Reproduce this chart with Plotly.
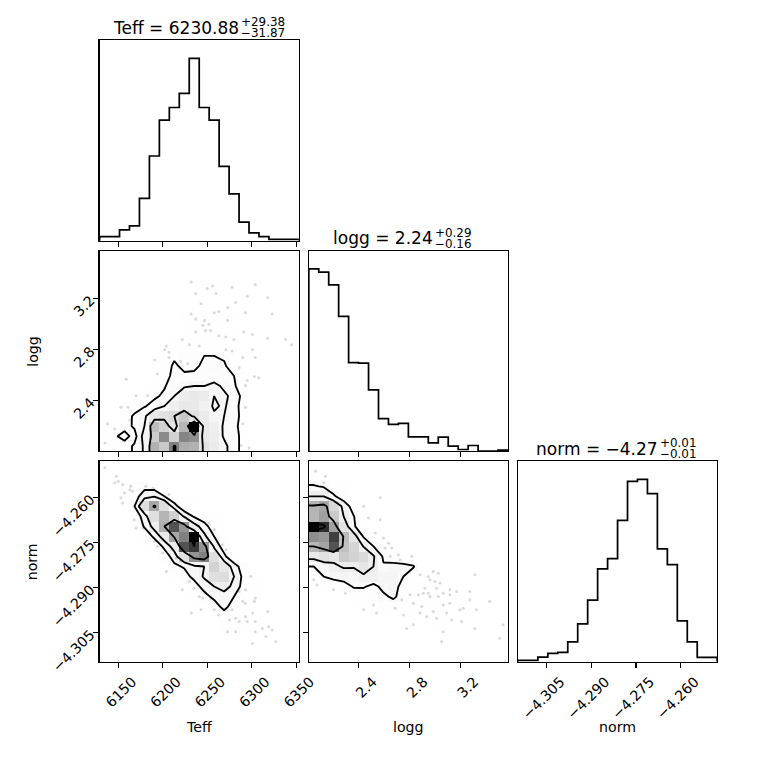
import numpy as np
import plotly.graph_objects as go

# ---------------- data ----------------
TEFF_RANGE = [6129.0, 6353.0]
LOGG_RANGE = [2.006, 3.576]
NORM_RANGE = [-4.3146, -4.2478]

TEFF_HIST = [12, 12, 32, 44, 126, 253, 360, 398, 440, 545, 398, 360, 222, 140, 55, 23, 12, 4, 2, 4]
LOGG_HIST = [545, 535, 497, 403, 265, 263, 183, 97, 80, 83, 43, 43, 25, 42, 15, 5, 17, 0, 0, 3]
NORM_HIST = [4, 4, 14, 25, 28, 59, 113, 184, 277, 308, 422, 538, 544, 502, 337, 290, 122, 59, 13, 13]

TEFF_TICKS = [6150, 6200, 6250, 6300, 6350]
LOGG_TICKS = [2.4, 2.8, 3.2]
NORM_TICKS = [-4.305, -4.290, -4.275, -4.260]
TEFF_TICKTEXT = ["6150", "6200", "6250", "6300", "6350"]
LOGG_TICKTEXT = ["2.4", "2.8", "3.2"]
NORM_TICKTEXT = ["\u22124.305", "\u22124.290", "\u22124.275", "\u22124.260"]

TITLES = [
    ("Teff = 6230.88", "+29.38", "\u221231.87"),
    ("logg = 2.24", "+0.29", "\u22120.16"),
    ("norm = \u22124.27", "+0.01", "\u22120.01"),
]
LABELS = ["Teff", "logg", "norm"]
LEVELS = [0.1175, 0.3935, 0.6753, 0.8647]

# 2-D histogram counts, rows listed from the top bin down to the bottom bin
TEFF_LOGG_GRID = [
    [0,0,0,0,0,0,0,0,0,0,2,1,0,0,0,0,0,0,0,0],
    [0,0,0,0,0,0,0,0,0,0,0,0,0,0,0,0,0,0,0,0],
    [0,0,0,0,0,0,0,0,0,0,0,0,0,0,0,0,0,0,0,0],
    [0,0,0,0,0,0,0,0,2,3,4,4,2,2,0,0,0,0,0,0],
    [0,0,0,0,0,0,0,0,0,2,2,1,0,0,0,0,0,0,0,0],
    [0,0,0,0,0,0,0,0,2,3,3,3,2,2,0,0,0,0,0,0],
    [0,0,0,0,0,0,0,3,5,6,6,6,6,5,3,2,0,0,0,0],
    [0,0,0,0,0,0,0,2,3,4,4,4,3,3,2,0,0,0,0,0],
    [0,0,0,0,0,0,2,3,5,6,6,6,5,4,3,2,1,0,0,0],
    [0,0,0,0,0,0,2,4,5,6,6,6,5,4,3,2,0,0,0,0],
    [0,0,0,0,0,2,4,8,9,10,10,10,9,8,6,3,2,0,0,0],
    [0,0,0,0,0,2,4,12,7,8,12,13,11,6,3,1,0,0,0,0],
    [0,0,0,0,0,3,6,13,12,12,12,11,14,10,4,1,0,0,0,0],
    [0,0,0,2,3,5,9,16,20,22,22,28,18,11,5,2,0,0,0,0],
    [0,0,0,0,5,8,12,22,34,38,36,22,26,16,6,2,0,0,0,0],
    [0,0,0,4,9,14,22,32,38,38,30,20,24,14,5,2,0,0,0,0],
    [0,0,4,12,19,38,44,48,60,44,36,24,22,15,5,2,0,0,0,0],
    [0,3,5,12,22,66,55,40,70,130,38,32,20,13,5,2,0,0,0,0],
    [0,8,15,5,28,58,88,55,90,86,38,34,20,14,6,2,0,0,0,0],
    [0,3,4,12,24,72,60,92,74,72,44,36,26,14,6,2,1,0,0,0],
]
TEFF_NORM_GRID = [
    [5,4,2,2,0,0,0,0,0,0,0,0,0,0,0,0,0,0,0,0],
    [0,3,4,4,2,0,0,0,0,0,0,0,0,0,0,0,0,0,0,0],
    [0,0,6,12,16,14,8,3,0,0,0,0,0,0,0,0,0,0,0,0],
    [0,0,4,14,32,36,22,10,4,0,0,0,0,0,0,0,0,0,0,0],
    [0,0,3,22,60,100,62,28,10,5,0,0,0,0,0,0,0,0,0,0],
    [0,0,4,10,30,60,92,72,34,20,10,5,0,0,0,0,0,0,0,0],
    [0,0,0,4,24,45,95,140,110,45,30,10,3,0,0,0,0,0,0,0],
    [0,0,0,0,8,26,48,100,120,170,42,22,8,0,0,0,0,0,0,0],
    [0,0,0,0,0,8,26,46,140,150,110,34,14,4,0,0,0,0,0,0],
    [0,0,0,0,0,0,12,30,58,110,120,60,26,6,0,0,0,0,0,0],
    [0,0,0,0,0,0,6,18,24,32,38,70,52,30,12,4,0,0,0,0],
    [0,0,0,0,0,0,0,8,14,28,40,60,62,38,16,6,0,0,0,0],
    [0,0,0,0,0,0,0,0,5,12,30,38,44,34,14,5,0,0,0,0],
    [0,0,0,0,0,0,0,0,0,5,14,28,32,22,9,3,0,0,0,0],
    [0,0,0,0,0,0,0,0,0,0,4,10,30,10,4,1,0,0,0,0],
    [0,0,0,0,0,0,0,0,0,0,0,4,8,8,5,3,0,0,0,0],
    [0,0,0,0,0,0,0,0,0,0,0,0,5,7,7,4,2,0,0,0],
    [0,0,0,0,0,0,0,0,0,0,0,0,0,4,4,3,3,0,0,0],
    [0,0,0,0,0,0,0,0,0,0,0,0,0,0,2,0,2,0,0,0],
    [0,0,0,0,0,0,0,0,0,0,0,0,0,0,0,2,0,2,0,0],
]
LOGG_NORM_GRID = [
    [7,4,2,0,0,0,0,0,0,0,0,0,0,0,0,0,0,0,0,0],
    [8,4,1,0,0,0,0,0,0,0,0,0,0,0,0,0,0,0,0,0],
    [24,20,10,5,0,0,0,0,0,0,0,0,0,0,0,0,0,0,0,0],
    [42,42,25,10,3,0,0,0,0,0,0,0,0,0,0,0,0,0,0,0],
    [91,97,64,36,12,0,0,0,0,0,0,0,0,0,0,0,0,0,0,0],
    [88,101,75,42,23,7,0,0,0,0,0,0,0,0,0,0,0,0,0,0],
    [165,150,100,55,25,7,0,0,0,0,0,0,0,0,0,0,0,0,0,0],
    [110,105,143,85,52,20,10,0,0,0,0,0,0,0,0,0,0,0,0,0],
    [87,98,135,81,66,41,22,7,0,0,0,0,0,0,0,0,0,0,0,0],
    [49,57,49,75,69,62,44,19,8,0,0,0,0,0,0,0,0,0,0,0],
    [22,31,38,44,44,52,42,24,30,30,24,0,0,0,0,0,0,0,0,0],
    [14,22,29,32,29,39,39,32,32,22,8,0,0,0,0,0,0,0,0,0],
    [0,5,6,12,24,24,16,28,32,12,8,6,4,2,0,0,0,0,0,0],
    [0,0,0,4,8,10,12,18,26,12,8,6,5,4,2,0,0,0,0,0],
    [0,0,0,0,0,3,4,6,10,8,7,6,5,5,3,0,2,0,0,0],
    [0,0,0,0,0,0,0,2,3,4,4,4,3,4,2,0,2,0,0,0],
    [0,0,0,0,0,0,0,0,2,3,3,3,3,5,2,2,2,0,0,0],
    [0,0,0,0,0,0,0,0,0,0,2,2,2,3,2,0,3,0,0,0],
    [0,0,0,0,0,0,0,0,0,0,0,0,0,2,0,0,2,0,0,0],
    [0,0,0,0,0,0,0,0,0,0,0,0,0,0,0,2,0,0,0,2],
]

# faint individual samples visible outside the outer contours
TL_TEFF = [6232,6256,6278,6304,6250,6237,6260,6295,6318,6243,6273,6282,6232,6258,6263,6293,6323,6237,6247,6252,
           6273,6245,6248,6254,6237,6263,6271,6280,6291,6301,6318,6222,6230,6241,6204,6202,6207,6220,6228,6219,
           6191,6194,6206,6202,6170,6183,6159,6161,6163,6138,6146,6301,6290,6286,6303,6295,6293,6308,6304,6293,
           6290,6288,6297,6135,6153,6278,6271,6207,6338,6345]
TL_LOGG = [3.33,3.30,3.29,3.31,3.28,3.24,3.24,3.22,3.21,3.16,3.13,3.17,3.08,3.09,3.10,3.09,3.08,3.04,3.03,3.00,
           3.03,2.99,2.95,2.95,2.94,2.91,2.90,2.88,2.94,2.92,2.89,2.88,2.84,2.83,2.83,2.80,2.78,2.71,2.69,2.66,
           2.72,2.61,2.56,2.50,2.44,2.44,2.57,2.35,2.25,2.22,2.18,2.80,2.74,2.66,2.59,2.56,2.52,2.58,2.74,2.35,
           2.22,2.05,2.03,2.07,2.35,2.79,2.80,2.74,2.88,2.84]
TN_TEFF = [6135,6148,6150,6155,6164,6146,6157,6163,6166,6153,6155,6181,6189,6207,6168,6170,6178,6185,6191,6194,
           6200,6215,6220,6222,6204,6230,6235,6248,6245,6241,6254,6286,6293,6299,6290,6293,6303,6304,6278,6282,
           6275,6286,6293,6295,6301,6304,6318,6319,6323,6312,6304,6301,6273,6282,6327,6316,6232,6243,6258,6263,
           6252,6258,6267,6271]
TN_NORM = [-4.2500,-4.2528,-4.2545,-4.2556,-4.2561,-4.2550,-4.2584,-4.2573,-4.2578,-4.2600,-4.2617,-4.2561,-4.2567,
           -4.2589,-4.2673,-4.2701,-4.2701,-4.2717,-4.2745,-4.2762,-4.2784,-4.2801,-4.2812,-4.2906,-4.2845,-4.2879,
           -4.2901,-4.2918,-4.2934,-4.2929,-4.2934,-4.2912,-4.2906,-4.2862,-4.2945,-4.2951,-4.2945,-4.2934,-4.2973,
           -4.3001,-4.3007,-4.3012,-4.2996,-4.3012,-4.2984,-4.3012,-4.2979,-4.3029,-4.3040,-4.3035,-4.3046,-4.3085,
           -4.3046,-4.3046,-4.3079,-4.3062,-4.2984,-4.2973,-4.2973,-4.2990,-4.2684,-4.2706,-4.2756,-4.2773]
LN_LOGG = [2.058,2.137,2.124,2.438,2.569,2.477,2.569,2.529,2.595,2.634,2.608,2.660,2.647,2.713,2.726,2.817,2.883,
           2.948,2.987,3.027,2.961,3.000,3.040,3.118,2.922,2.948,2.961,2.909,2.870,3.066,3.027,3.118,3.171,3.275,
           3.315,3.275,3.328,3.223,3.197,3.066,3.118,3.092,3.131,3.210,3.066,3.053,3.014,2.987,2.896,2.883,2.935,
           2.830,2.804,2.739,2.752,2.686,2.542,2.516,2.438,2.294,2.202,2.045,2.150,2.071,2.830,2.778,3.315,3.537,
           3.511,3.432,3.014]
LN_NORM = [-4.2511,-4.2528,-4.2550,-4.2628,-4.2600,-4.2667,-4.2673,-4.2717,-4.2734,-4.2751,-4.2767,-4.2767,-4.2795,
           -4.2790,-4.2806,-4.2795,-4.2856,-4.2862,-4.2845,-4.2851,-4.2873,-4.2879,-4.2884,-4.2906,-4.2901,-4.2918,
           -4.2929,-4.2918,-4.2923,-4.2918,-4.2929,-4.2923,-4.2912,-4.2912,-4.2856,-4.2940,-4.2973,-4.2968,-4.2973,
           -4.2957,-4.2951,-4.2984,-4.3007,-4.3012,-4.3046,-4.3079,-4.3001,-4.2979,-4.2962,-4.2984,-4.2996,-4.2951,
           -4.2923,-4.2940,-4.2990,-4.2968,-4.2984,-4.2957,-4.2973,-4.2918,-4.2906,-4.2873,-4.2867,-4.2890,-4.3023,
           -4.3035,-4.3035,-4.3023,-4.3068,-4.2945,-4.2901]

# ---------------- layout helpers ----------------
REF = 760.0                 # reference picture size; positions below are in its pixels
PAGE = 775                  # page size that gets photographed down to 760
K = PAGE / REF              # css px per reference px
FONT = "DejaVu Sans"
COLS = [(100, 300), (310, 510), (520, 720)]
ROWS = [(40, 240), (250, 450), (460, 660)]


def px(p):
    return p / REF


def py(p):
    return 1 - p / REF


def xdom(c):
    return [px(COLS[c][0]), px(COLS[c][1])]


def ydom(r):
    return [py(ROWS[r][1]), py(ROWS[r][0])]


def edges(rng):
    return np.linspace(rng[0], rng[1], 21)


def centers(rng):
    e = edges(rng)
    return 0.5 * (e[1:] + e[:-1])


def step_xy(rng, counts):
    e = edges(rng)
    xs, ys = [e[0]], [0.0]
    for k, c in enumerate(counts):
        xs += [e[k], e[k + 1]]
        ys += [c, c]
    xs.append(e[-1])
    ys.append(0.0)
    return xs, ys


def corner_levels(H):
    Hflat = H.flatten()
    inds = np.argsort(Hflat)[::-1]
    Hflat = Hflat[inds]
    sm = np.cumsum(Hflat)
    sm = sm / sm[-1]
    V = np.empty(len(LEVELS))
    for k, v0 in enumerate(LEVELS):
        sel = Hflat[sm <= v0]
        V[k] = sel[-1] if len(sel) else Hflat[0]
    V.sort()
    return V


def corner_pad(H, xr, yr):
    X1, Y1 = centers(xr), centers(yr)
    H2 = H.min() + np.zeros((H.shape[0] + 4, H.shape[1] + 4))
    H2[2:-2, 2:-2] = H
    H2[2:-2, 1] = H[:, 0]
    H2[2:-2, -2] = H[:, -1]
    H2[1, 2:-2] = H[0]
    H2[-2, 2:-2] = H[-1]
    H2[1, 1] = H[0, 0]
    H2[1, -2] = H[0, -1]
    H2[-2, 1] = H[-1, 0]
    H2[-2, -2] = H[-1, -1]
    X2 = np.concatenate([X1[0] + np.array([-2, -1]) * np.diff(X1[:2]), X1,
                         X1[-1] + np.array([1, 2]) * np.diff(X1[-2:])])
    Y2 = np.concatenate([Y1[0] + np.array([-2, -1]) * np.diff(Y1[:2]), Y1,
                         Y1[-1] + np.array([1, 2]) * np.diff(Y1[-2:])])
    return X2, Y2, H2


fs = [k / 20 for k in range(21)]
DENSITY_SCALE = [[f, "rgb({0},{0},{0})".format(int(round(255 * (1 - f * f))))] for f in fs]

fig = go.Figure()


def add_hist(rng, counts, xa, ya):
    xs, ys = step_xy(rng, counts)
    fig.add_trace(go.Scatter(x=xs, y=ys, mode="lines", line=dict(color="black", width=1.7 * K),
                             xaxis=xa, yaxis=ya, hoverinfo="skip", showlegend=False))


def add_2d(grid_rows_top_down, xr, yr, pxs, pys, xa, ya):
    Hyx = np.array(grid_rows_top_down, dtype=float)[::-1]   # [iy, ix]
    H = Hyx.T                                                 # [ix, iy]
    fig.add_trace(go.Heatmap(x=centers(xr), y=centers(yr), z=Hyx, zmin=0, zmax=H.max(),
                             colorscale=DENSITY_SCALE, showscale=False, hoverinfo="skip",
                             xaxis=xa, yaxis=ya))
    fig.add_trace(go.Scatter(x=pxs, y=pys, mode="markers",
                             marker=dict(color="rgba(0,0,0,0.14)", size=3 * K, line=dict(width=0)),
                             xaxis=xa, yaxis=ya, hoverinfo="skip", showlegend=False))
    V = corner_levels(H)
    X2, Y2, H2 = corner_pad(H, xr, yr)
    for v in V:
        fig.add_trace(go.Contour(x=X2, y=Y2, z=H2.T, autocontour=False,
                                 contours=dict(start=v, end=v, size=1, coloring="lines"),
                                 colorscale=[[0, "black"], [1, "black"]],
                                 line=dict(width=1.8 * K, smoothing=0), showscale=False,
                                 hoverinfo="skip", xaxis=xa, yaxis=ya))


add_hist(TEFF_RANGE, TEFF_HIST, "x", "y")
add_2d(TEFF_LOGG_GRID, TEFF_RANGE, LOGG_RANGE, TL_TEFF, TL_LOGG, "x2", "y2")
add_hist(LOGG_RANGE, LOGG_HIST, "x3", "y3")
add_2d(TEFF_NORM_GRID, TEFF_RANGE, NORM_RANGE, TN_TEFF, TN_NORM, "x4", "y4")
add_2d(LOGG_NORM_GRID, LOGG_RANGE, NORM_RANGE, LN_LOGG, LN_NORM, "x5", "y5")
add_hist(NORM_RANGE, NORM_HIST, "x6", "y6")

LABEL_FS = 13.9 * K
tickfont = dict(family=FONT, size=LABEL_FS, color="black")


def axis(dom, rng, anchor, tickvals=None, ticktext=None, labels=False):
    d = dict(domain=dom, range=rng, anchor=anchor, showline=True, mirror=True, linecolor="black",
             linewidth=1.1 * K, showgrid=False, zeroline=False, tickfont=tickfont, fixedrange=True)
    if tickvals is None:
        d.update(ticks="", showticklabels=False)
    else:
        d.update(tickmode="array", tickvals=tickvals, ticktext=ticktext, ticks="outside",
                 ticklen=5 * K, tickwidth=1.1 * K, tickcolor="black", showticklabels=labels, tickangle=-45)
    return d


layout = dict(width=PAGE, height=PAGE, margin=dict(l=0, r=0, t=0, b=0, pad=0), autosize=False,
              paper_bgcolor="white", plot_bgcolor="white", showlegend=False)
layout["xaxis"] = axis(xdom(0), TEFF_RANGE, "y", TEFF_TICKS, TEFF_TICKTEXT)
layout["yaxis"] = axis(ydom(0), [0, 1.1 * max(TEFF_HIST)], "x")
layout["xaxis2"] = axis(xdom(0), TEFF_RANGE, "y2", TEFF_TICKS, TEFF_TICKTEXT)
layout["yaxis2"] = axis(ydom(1), LOGG_RANGE, "x2", LOGG_TICKS, LOGG_TICKTEXT, labels=True)
layout["xaxis3"] = axis(xdom(1), LOGG_RANGE, "y3", LOGG_TICKS, LOGG_TICKTEXT)
layout["yaxis3"] = axis(ydom(1), [0, 1.1 * max(LOGG_HIST)], "x3")
layout["xaxis4"] = axis(xdom(0), TEFF_RANGE, "y4", TEFF_TICKS, TEFF_TICKTEXT, labels=True)
layout["yaxis4"] = axis(ydom(2), NORM_RANGE, "x4", NORM_TICKS, NORM_TICKTEXT, labels=True)
layout["xaxis5"] = axis(xdom(1), LOGG_RANGE, "y5", LOGG_TICKS, LOGG_TICKTEXT, labels=True)
layout["yaxis5"] = axis(ydom(2), NORM_RANGE, "x5", NORM_TICKS, NORM_TICKTEXT)
layout["xaxis6"] = axis(xdom(2), NORM_RANGE, "y6", NORM_TICKS, NORM_TICKTEXT, labels=True)
layout["yaxis6"] = axis(ydom(2), [0, 1.1 * max(NORM_HIST)], "x6")

for k in ["xaxis4", "xaxis5", "xaxis6"]:
    layout[k]["ticklabelshift"] = int(round(14 * K))

ann = []
TITLE_FS = 16.7 * K
SCRIPT_FS = 11.7 * K
# (centre x, baseline y, main width, script width) in reference pixels
title_info = [(200, 32.7, 125.6, 43.0), (410, 242.5, 87.7, 35.8), (620, 452.5, 119.5, 35.8)]
for (main, sup, sub), (cx, base, mw, sw) in zip(TITLES, title_info):
    end = cx + (mw - sw) / 2
    ann.append(dict(text=main, x=px(end), y=py(base - 4.7), xref="paper", yref="paper",
                    xanchor="right", yanchor="middle", showarrow=False, borderpad=0,
                    font=dict(family=FONT, size=TITLE_FS, color="black")))
    ann.append(dict(text=sup, x=px(end), y=py(base - 10.3), xref="paper", yref="paper",
                    xanchor="left", yanchor="middle", showarrow=False, borderpad=0,
                    font=dict(family=FONT, size=SCRIPT_FS, color="black")))
    ann.append(dict(text=sub, x=px(end), y=py(base + 0.4), xref="paper", yref="paper",
                    xanchor="left", yanchor="middle", showarrow=False, borderpad=0,
                    font=dict(family=FONT, size=SCRIPT_FS, color="black")))

for c, lab in enumerate(LABELS):
    ann.append(dict(text=lab, x=px((COLS[c][0] + COLS[c][1]) / 2), y=py(725), xref="paper", yref="paper",
                    xanchor="center", yanchor="middle", showarrow=False, borderpad=0,
                    font=dict(family=FONT, size=LABEL_FS, color="black")))
for r, lab in [(1, "logg"), (2, "norm")]:
    ann.append(dict(text=lab, x=px(33), y=py((ROWS[r][0] + ROWS[r][1]) / 2), xref="paper", yref="paper",
                    xanchor="center", yanchor="middle", textangle=-90, showarrow=False, borderpad=0,
                    font=dict(family=FONT, size=LABEL_FS, color="black")))
layout["annotations"] = ann

fig.update_layout(**layout)
PAGE_FIT = ("document.documentElement.style.margin='0';document.documentElement.style.overflow='hidden';"
            "document.body.style.margin='0';document.body.style.padding='0';document.body.style.overflow='hidden';")
fig.write_html("out.html", post_script=PAGE_FIT, config={"displayModeBar": False, "staticPlot": True})
